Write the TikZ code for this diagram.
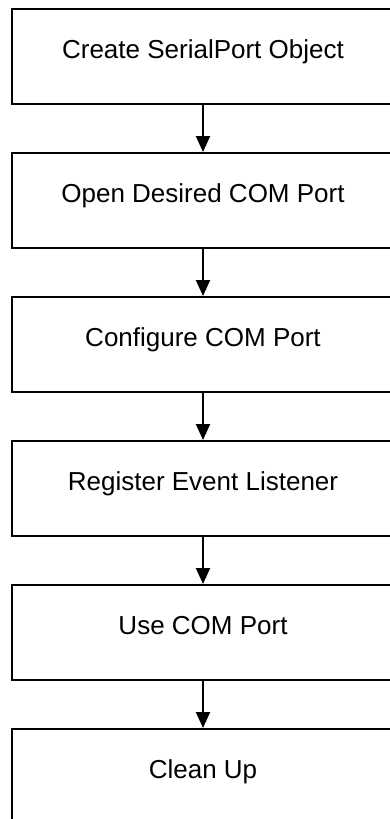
\documentclass[tikz,border=0pt]{standalone}
\usepackage{fontspec}
\setmainfont{Liberation Sans}
\usetikzlibrary{arrows.meta}
\begin{document}
\begin{tikzpicture}[x=1pt,y=-1pt,
  stepbox/.style={draw=black, line width=2pt, rectangle,
    minimum width=382pt, minimum height=95pt, inner sep=0pt,
    text height=17pt, text depth=14pt,
    font=\fontsize{26}{31}\selectfont},
  flow/.style={line width=2pt, -{Triangle[width=14pt,length=16pt]}}]
  \useasboundingbox (0,0) rectangle (390,819);
  \clip (0,0) rectangle (390,819);
  \node[stepbox] (s1) at (203,56.5)  {Create SerialPort Object};
  \node[stepbox] (s2) at (203,200.5) {Open Desired COM Port};
  \node[stepbox] (s3) at (203,344.5) {Configure COM Port};
  \node[stepbox] (s4) at (203,488.5) {Register Event Listener};
  \node[stepbox] (s5) at (203,632.5) {Use COM Port};
  \node[stepbox] (s6) at (203,776.5) {Clean Up};
  \foreach \a/\b in {s1/s2,s2/s3,s3/s4,s4/s5,s5/s6}
    \draw[flow] (\a.south) -- (\b.north);
\end{tikzpicture}
\end{document}
